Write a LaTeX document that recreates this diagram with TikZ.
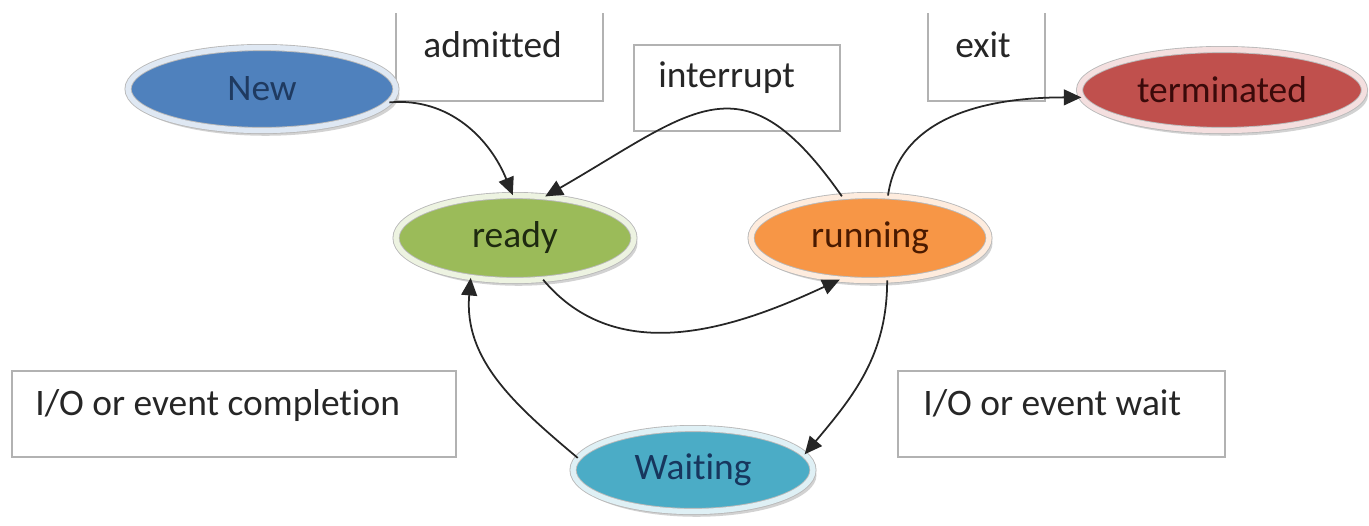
\documentclass[tikz,border=0pt]{standalone}
\usepackage{fontspec}
\setmainfont{Carlito}[Ligatures=NoCommon]
\usepackage{tikz}
\usetikzlibrary{shapes.geometric,shadows,arrows.meta}
\definecolor{newblue}{HTML}{4F81BD}
\definecolor{readygreen}{HTML}{9BBB59}
\definecolor{runorange}{HTML}{F79646}
\definecolor{termred}{HTML}{C0504D}
\definecolor{waitcyan}{HTML}{4BACC6}
\tikzset{
    procstate/.style = {ellipse, draw=gray!55, line width=0.5pt, double=#1!18, double distance=3pt, fill=#1,
        inner sep=0pt, drop shadow={shadow xshift=2pt, shadow yshift=-3pt, fill=gray!70}},
    labelbox/.style = {draw=gray!60, line width=0.8pt},
    labeltext/.style = {anchor=base west, inner sep=0pt, text=black!85},
    flow/.style = {draw=black!85, line width=1pt, -{Triangle[length=10pt,width=9pt]}},
}

\begin{document}
\begin{tikzpicture}[x=0.02cm, y=0.02cm, font=\fontsize{21.3}{25}\selectfont]
\path[use as bounding box] (0,0) rectangle (1369,-525);

% label boxes
\draw[labelbox] (396,-13) |- (603,-101) -- (603,-13);
\draw[labelbox] (634,-45) rectangle (840,-131);
\draw[labelbox] (928,-13) |- (1045,-101) -- (1045,-13);
\draw[labelbox] (12,-371) rectangle (456,-457);
\draw[labelbox] (898,-371) rectangle (1225,-457);

\node[labeltext] (admitted) at (423,-57) {admitted};
\node[labeltext] (interrupt) at (658,-87) {interrupt};
\node[labeltext] (exit) at (955,-57) {exit};
\node[labeltext] (iodone) at (35,-415) {I/O or event completion};
\node[labeltext] (iowait) at (923,-415) {I/O or event wait};

% states
\node[procstate=newblue, minimum width=5.36cm, minimum height=1.66cm, text={rgb,255:red,31;green,58;blue,96}] (new) at (262,-89) {New};
\node[procstate=readygreen, minimum width=4.76cm, minimum height=1.7cm, text={rgb,255:red,30;green,42;blue,16}] (ready) at (515,-238) {ready};
\node[procstate=runorange, minimum width=4.76cm, minimum height=1.7cm, text={rgb,255:red,74;green,26;blue,0}] (running) at (870,-238) {running};
\node[procstate=termred, minimum width=5.7cm, minimum height=1.62cm, text={rgb,255:red,58;green,10;blue,10}] (terminated) at (1222,-90) {terminated};
\node[procstate=waitcyan, minimum width=4.8cm, minimum height=1.66cm, text={rgb,255:red,23;green,54;blue,93}] (waiting) at (693,-470) {Waiting};

% transitions
\draw[flow] (new.-6) to[out=5, in=112] (ready.93);
\draw[flow] (running.124) to[out=125, in=30, looseness=1.5] (ready.54);
\draw[flow] (running.67) to[out=82, in=180] (terminated.183);
\draw[flow] (ready.-56) to[out=-50, in=205] (running.234);
\draw[flow] (running.-68) to[out=-90, in=50] (waiting.8);
\draw[flow] (waiting.174) to[out=140, in=-95] (ready.222);
\end{tikzpicture}
\end{document}
